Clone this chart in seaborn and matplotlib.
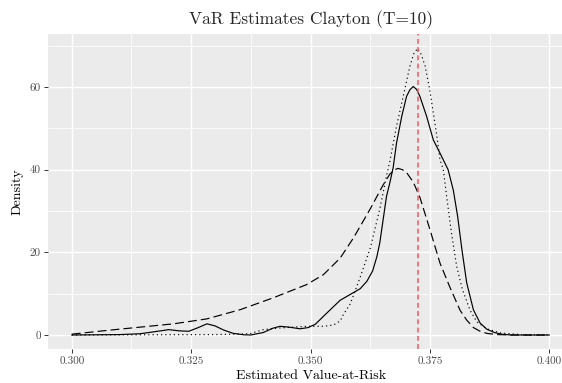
import numpy as np
import pandas as pd
import matplotlib
matplotlib.use("Agg")
import matplotlib.pyplot as plt
import seaborn as sns

# ---- data ----
solid_x = [0.300, 0.310, 0.3143, 0.3192, 0.3203, 0.3225, 0.3245, 0.3265, 0.3283, 0.3300, 0.3318,
           0.3338, 0.3360, 0.3375, 0.3401, 0.3420, 0.3436, 0.3455, 0.3478, 0.3495, 0.3510, 0.3534,
           0.3562, 0.3583, 0.3604, 0.3618, 0.3630, 0.3639, 0.3645, 0.3652, 0.3659, 0.3666, 0.3673,
           0.3680, 0.3691, 0.3701, 0.3708, 0.3715, 0.3722, 0.3729, 0.3743, 0.3757, 0.3771, 0.3788,
           0.3799, 0.3808, 0.3817, 0.3827, 0.3841, 0.3855, 0.3869, 0.3885, 0.3900, 0.392, 0.400]
solid_y = [0.0, 0.1, 0.3, 1.1, 1.3, 1.0, 0.9, 1.8, 2.7, 2.2, 1.2,
           0.4, 0.05, 0.0, 0.6, 1.6, 2.1, 1.9, 1.5, 1.8, 2.6, 5.3,
           8.4, 9.8, 11.2, 13.0, 15.5, 19.0, 22.3, 27.9, 33.5, 36.8, 40.5,
           46.4, 52.9, 57.7, 59.3, 60.1, 59.4, 57.7, 52.9, 47.2, 44.0, 40.0,
           35.0, 28.7, 20.6, 12.6, 6.1, 2.9, 1.4, 0.6, 0.2, 0.0, 0.0]

dashed_x = [0.300, 0.3073, 0.3143, 0.3213, 0.3283, 0.3352, 0.3422, 0.3492, 0.3527, 0.3562, 0.3590,
            0.3625, 0.3652, 0.3666, 0.3675, 0.3683, 0.3692, 0.3701, 0.3715, 0.3729, 0.3750, 0.3771,
            0.3792, 0.3813, 0.3827, 0.3841, 0.3855, 0.3869, 0.3890, 0.392, 0.400]
dashed_y = [0.2, 1.1, 1.9, 2.7, 3.9, 6.1, 9.0, 12.2, 14.6, 18.6, 23.5,
            30.5, 36.3, 38.9, 39.9, 40.3, 40.0, 39.3, 37.0, 33.3, 25.5, 17.4,
            11.5, 6.0, 3.6, 1.8, 0.9, 0.4, 0.1, 0.0, 0.0]

dotted_x = [0.300, 0.330, 0.3373, 0.3401, 0.3436, 0.3492, 0.3527, 0.3548, 0.3562, 0.3569, 0.3583,
            0.3597, 0.3604, 0.3625, 0.3645, 0.3659, 0.3666, 0.3680, 0.3694, 0.3708, 0.3716, 0.3724,
            0.3732, 0.3740, 0.3750, 0.3764, 0.3771, 0.3778, 0.3785, 0.3795, 0.3806, 0.3818, 0.3834,
            0.3848, 0.3869, 0.3897, 0.395, 0.400]
dotted_y = [0.0, 0.1, 0.3, 1.3, 1.7, 2.1, 2.1, 2.4, 3.4, 5.0, 7.5,
            11.8, 14.0, 21.0, 30.5, 38.4, 42.0, 50.5, 57.7, 65.0, 68.0, 69.3,
            67.8, 65.0, 59.0, 48.5, 42.4, 40.0, 33.5, 24.7, 16.6, 11.0, 6.0,
            3.2, 1.5, 0.5, 0.0, 0.0]

var_true = 0.3725

x_ticks = [0.300, 0.325, 0.350, 0.375, 0.400]
x_tick_labels = ["0.300", "0.325", "0.350", "0.375", "0.400"]
y_ticks = [0, 20, 40, 60]
y_tick_labels = ["0", "20", "40", "60"]

title = "VaR Estimates Clayton (T=10)"
xlabel = "Estimated Value-at-Risk"
ylabel = "Density"

# ---- style ----
sns.set_theme(style="darkgrid")
plt.rcParams["font.family"] = ["cmr10", "DejaVu Serif"]
plt.rcParams["axes.formatter.use_mathtext"] = True
plt.rcParams["axes.unicode_minus"] = False

fig = plt.figure(figsize=(5.62, 3.83), dpi=100)
ax = fig.add_axes([48 / 562, 1 - 349.3 / 383, 525.3 / 562, (349.3 - 34) / 383])
ax.set_facecolor("#EBEBEB")

df_s = pd.DataFrame({"x": solid_x, "y": solid_y})
df_d = pd.DataFrame({"x": dashed_x, "y": dashed_y})
df_o = pd.DataFrame({"x": dotted_x, "y": dotted_y})

lw = 0.85
sns.lineplot(data=df_d, x="x", y="y", ax=ax, color="black", lw=lw,
             linestyle=(0, (7.5, 3.5)), sort=False)
sns.lineplot(data=df_o, x="x", y="y", ax=ax, color="black", lw=lw,
             linestyle=(0, (1.0, 2.6)), sort=False)
sns.lineplot(data=df_s, x="x", y="y", ax=ax, color="black", lw=lw,
             linestyle="-", sort=False)
ax.axvline(var_true, color="#F05A5F", lw=1.1, linestyle=(0, (3.2, 2.2)), zorder=5)

ax.set_xlim(0.29502, 0.40502)
ax.set_ylim(-3.46, 72.8)

ax.set_xticks(x_ticks)
ax.set_xticklabels(x_tick_labels)
ax.set_yticks(y_ticks)
ax.set_yticklabels(y_tick_labels)
ax.set_xticks([0.3125, 0.3375, 0.3625, 0.3875], minor=True)
ax.set_yticks([10, 30, 50, 70], minor=True)

ax.grid(which="major", color="white", lw=1.05)
ax.grid(which="minor", color="white", lw=0.55)
ax.set_axisbelow(True)
for s in ax.spines.values():
    s.set_visible(False)

ax.tick_params(axis="both", which="major", length=2.8, width=0.7, color="#333333",
               labelsize=8, labelcolor="#4D4D4D", pad=2.5, bottom=True, left=True)
ax.tick_params(axis="both", which="minor", length=0)

ax.set_xlabel(xlabel, fontsize=10, color="black", labelpad=3)
ax.set_ylabel(ylabel, fontsize=10, color="black", labelpad=4)
fig.text(311 / 562, 1 - 24 / 383, title, fontsize=12.5, ha="center", va="baseline")

fig.savefig("out.png", dpi=100)
